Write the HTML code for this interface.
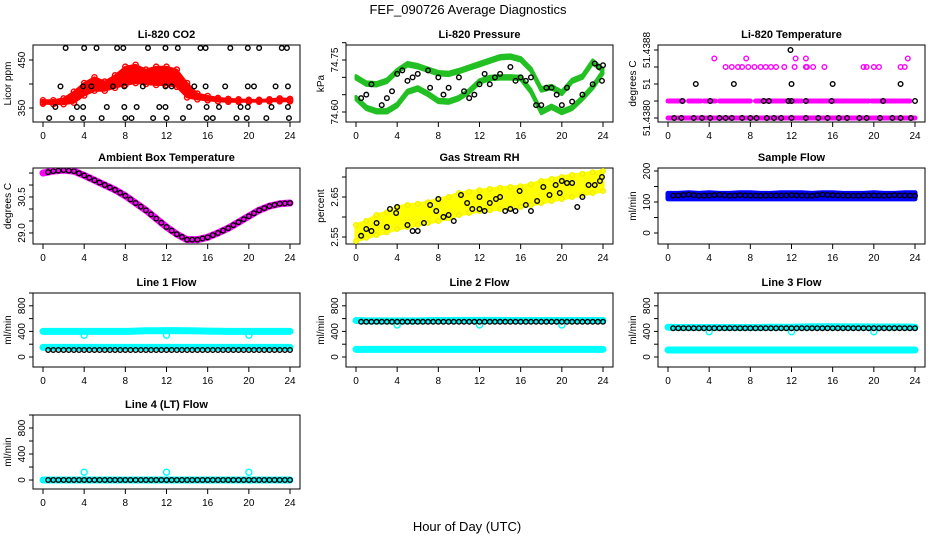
<!DOCTYPE html>
<html><head><meta charset="utf-8"><style>
html,body{margin:0;padding:0;background:#fff;}
svg{display:block;font-family:"Liberation Sans",sans-serif;}
</style></head><body>
<svg id="chart" width="936" height="540" viewBox="0 0 936 540" xmlns="http://www.w3.org/2000/svg">
<rect width="936" height="540" fill="#fff"/>
<text x="468" y="14" text-anchor="middle" font-size="13">FEF_090726  Average Diagnostics</text>
<text x="467" y="531" text-anchor="middle" font-size="13">Hour of Day (UTC)</text>
<g id="plots"></g>
</svg>
<script>
// ---------- data ----------
const hours = [0,1,2,3,4,5,6,7,8,9,10,11,12,13,14,15,16,17,18,19,20,21,22,23,24];
const xTicks = [0,4,8,12,16,20,24];

// CO2
const co2Hi = [366,366,370,384,402,414,405,418,436,440,430,436,436,430,402,380,375,371,369,368,367,367,368,370,369];
const co2Lo = [359,358,358,361,376,386,386,392,398,402,400,398,398,394,372,368,366,364,363,363,363,363,364,364,364];
const co2Mid = [362,362,364,372,392,400,395,405,420,425,415,420,418,412,388,374,370,368,366,365,365,365,366,367,366];
const co2BlackX = [2.2,4.0,5.2,7.2,7.8,10.2,11.9,13.1,15.3,15.8,18.2,19.9,21.0,23.2,23.7,
  1.7,3.9,4.7,6.8,7.9,9.7,11.9,12.5,14.7,15.8,17.7,19.9,20.5,22.6,23.8,
  1.2,3.3,3.9,6.2,7.9,9.1,11.3,11.9,14.2,15.9,17.1,19.2,19.9,22.2,23.8,
  0.6,2.8,3.9,5.7,8.0,8.6,10.7,12.0,13.6,15.9,16.5,18.8,19.8,21.7,23.9];
const co2BlackY = [475,475,475,475,475,475,475,475,475,475,475,475,475,475,475,
  395,395,395,395,395,395,395,395,395,395,395,395,395,395,395,
  352,352,352,352,352,352,352,352,352,352,352,352,352,352,352,
  329,329,329,329,329,329,329,329,329,329,329,329,329,329,329];

// Pressure
const presUp = [74.700,74.682,74.680,74.690,74.718,74.738,74.732,74.722,74.712,74.710,74.718,74.728,74.738,74.748,74.758,74.760,74.752,74.722,74.665,74.672,74.655,74.690,74.702,74.745,74.720];
const presLo = [74.640,74.612,74.602,74.602,74.620,74.658,74.668,74.652,74.632,74.630,74.640,74.660,74.688,74.698,74.700,74.700,74.698,74.660,74.600,74.615,74.600,74.612,74.640,74.672,74.715];
const presBlackX = [0.5,1,1.5,2.5,3,3.5,4,4.5,5,5.5,6,7,7.2,8,8.5,9,10,10.5,11,11.5,12,12.5,13,13.5,14,15,15.5,16,16.5,17,17.5,18,18.5,19,19.5,20,20.5,21,22,23,23.2,23.6,24,23.9];
const presBlackY = [74.640,74.650,74.680,74.620,74.640,74.660,74.710,74.720,74.690,74.700,74.710,74.720,74.670,74.700,74.650,74.670,74.700,74.660,74.640,74.650,74.680,74.710,74.680,74.700,74.710,74.730,74.690,74.700,74.690,74.700,74.620,74.620,74.670,74.670,74.650,74.620,74.670,74.630,74.650,74.680,74.740,74.730,74.735,74.690];

// Li-820 temperature
const tempPinkRanges0 = [[0,24]];
const tempPinkRanges1 = [[0,1.5],[2,3.2],[3.5,4.6],[5,8],[8.5,9],[9.3,11.3],[11.5,13],[13.5,19.5],[19.8,23.5]];
const tempPinkX = [5.6,6.2,6.8,7.2,7.8,8.4,9,9.5,10,10.5,11.3,12.3,13.4,13.5,14.1,15.2,19,19.3,20,20.5,22.6,23,4.5,7.6,12.4,13.4,23.3];
const tempPinkY = [51.4386,51.4386,51.4386,51.4386,51.4386,51.4386,51.4386,51.4386,51.4386,51.4386,51.4386,51.4386,51.4386,51.4386,51.4386,51.4386,51.4386,51.4386,51.4386,51.4386,51.4386,51.4386,51.4387,51.4387,51.4387,51.4387,51.4387];
const tempBlackX = [0.6,1.3,2.5,3.3,4.1,5,5.6,6.2,7.2,8,8.6,9.6,10.3,11,12,13.4,14.6,15.5,16.6,17.4,18.6,19.3,20.6,21.8,22.6,23.6,
  1.4,4.1,9.3,9.8,11.7,12,13.4,15.9,20.9,24, 2.7,6.4,12,16,22.6, 11.9];
const tempBlackY = [51.4380,51.4380,51.4380,51.4380,51.4380,51.4380,51.4380,51.4380,51.4380,51.4380,51.4380,51.4380,51.4380,51.4380,51.4380,51.4380,51.4380,51.4380,51.4380,51.4380,51.4380,51.4380,51.4380,51.4380,51.4380,51.4380,
  51.4382,51.4382,51.4382,51.4382,51.4382,51.4382,51.4382,51.4382,51.4382,51.4382, 51.4384,51.4384,51.4384,51.4384,51.4384, 51.4388];

// Ambient box temperature
const ambient = [31.50,31.58,31.62,31.58,31.40,31.20,31.00,30.80,30.55,30.25,29.95,29.60,29.25,28.95,28.72,28.72,28.82,29.00,29.20,29.45,29.70,29.95,30.12,30.22,30.25];

// RH
const rhLo = [2.540,2.548,2.555,2.562,2.570,2.575,2.580,2.585,2.590,2.597,2.605,2.610,2.615,2.617,2.620,2.622,2.625,2.630,2.635,2.640,2.645,2.650,2.655,2.660,2.665];
const rhHi = [2.580,2.590,2.605,2.612,2.625,2.630,2.633,2.637,2.645,2.650,2.660,2.663,2.667,2.670,2.673,2.675,2.677,2.682,2.690,2.695,2.700,2.705,2.708,2.712,2.715];
const rhBlackX = [0.5,1,1.5,2,3,3.3,3.9,4,5,5.5,6,6.6,7.2,7.8,8,8.5,9,9.5,10.2,10.8,11.3,12,12,12.5,13,13.6,14,14.5,15,15.5,15.9,16.5,17,17.6,18.2,18.8,19.4,19.8,20,20.5,21,21.5,22,22.6,23.2,23.7,23.9];
const rhBlackY = [2.553,2.570,2.565,2.585,2.575,2.620,2.610,2.625,2.580,2.565,2.565,2.585,2.630,2.615,2.645,2.600,2.605,2.590,2.655,2.635,2.620,2.650,2.620,2.615,2.635,2.645,2.650,2.615,2.620,2.615,2.665,2.630,2.615,2.640,2.675,2.655,2.680,2.660,2.690,2.685,2.685,2.625,2.650,2.680,2.680,2.690,2.700];

// Sample flow
const sampleLo = [110,110,110,110,110,110,110,110,110,110,110,110,110,110,110,110,110,110,110,110,110,110,110,110,110];
const sampleHi = [128,128,130,128,130,128,128,130,130,128,128,130,130,130,128,130,130,128,128,128,130,128,128,130,130];
const sampleBlack = [120,121,124,120,121,123,120,122,121,120,121,121,122,121,120,124,122,121,120,121,121,120,122,121,120];

// Line flows (hourly)
const l1CyanHi = [400,400,400,400,400,400,400,400,400,405,410,410,412,412,410,408,405,402,400,400,400,400,400,400,400];
const l1CyanLo = [150,150,150,150,150,150,150,150,150,150,150,150,150,150,150,150,150,150,150,150,150,150,150,150,150];
const l1Black  = [110,110,110,110,110,110,110,110,110,110,110,110,110,110,110,110,110,110,110,110,110,110,110,110,110];
const l2CyanHi = [570,565,565,565,565,565,565,568,570,570,572,572,572,572,572,570,570,570,570,570,570,570,570,570,570];
const l2CyanLo = [120,120,120,120,120,120,120,120,120,120,120,120,120,120,120,120,120,120,120,120,120,120,120,120,120];
const l2Black  = [550,550,550,550,550,550,550,550,550,550,550,550,550,550,550,550,550,550,550,550,550,550,550,550,550];
const l3CyanHi = [465,462,462,462,462,462,462,462,462,462,465,465,465,468,470,472,472,470,470,470,468,468,468,468,465];
const l3CyanLo = [110,110,110,110,110,110,110,110,110,110,110,110,110,110,110,110,110,110,110,110,110,110,110,110,110];
const l3Black  = [450,450,450,450,450,450,450,450,450,450,450,450,450,450,450,450,450,450,450,450,450,450,450,450,450];
const l4Cyan   = [0,0,0,0,0,0,0,0,0,0,0,0,0,0,0,0,0,0,0,0,0,0,0,0,0];
const l4Black  = [0,0,0,0,0,0,0,0,0,0,0,0,0,0,0,0,0,0,0,0,0,0,0,0,0];
const flowOutX = [4,12,20];
const l1OutY = [340,340,340];
const l2OutY = [500,500,500];
const l3OutY = [395,395,395];
const l4OutY = [120,120,120];

// ---------- drawing ----------
const NS = "http://www.w3.org/2000/svg";
const root = document.getElementById('plots');
const colLeft = [33,346,658], boxW = 267;
const rowTop = [45,168,293,415], rowH = [77,76,74,74];

function mk(tag, attrs, parent){
  const e = document.createElementNS(NS, tag);
  for (const k in attrs) e.setAttribute(k, attrs[k]);
  parent.appendChild(e);
  return e;
}

function panel(col,row,title,ylab,ymin,ymax,yticks,ylabels,name){
  const L = colLeft[col], T = rowTop[row], H = rowH[row];
  const g = mk('g',{},root);
  
  
  const sx = h => L + 10 + h*(boxW-20)/24;
  const sy = v => T + H - (v-ymin)/(ymax-ymin)*H;
  const box = mk('rect',{x:L,y:T,width:boxW,height:H,fill:'none',stroke:'#000','stroke-width':1},g);
  
  
  const t = mk('text',{x:L+boxW/2,y:T-7,'text-anchor':'middle','font-size':11,'font-weight':'bold'},g);
  t.textContent = title;
  
  
  const xa = mk('g',{},g);
  
  
  mk('line',{x1:sx(0),x2:sx(24),y1:T+H,y2:T+H,stroke:'#000'},xa);
  xTicks.forEach(h=>{
    mk('line',{x1:sx(h),x2:sx(h),y1:T+H,y2:T+H+5,stroke:'#000'},xa);
    const tx = mk('text',{x:sx(h),y:T+H+17,'text-anchor':'middle','font-size':10},xa);
    tx.textContent = h;
    
    
  });
  const ya = mk('g',{},g);
  
  
  mk('line',{x1:L,x2:L,y1:sy(yticks[0]),y2:sy(yticks[yticks.length-1]),stroke:'#000'},ya);
  yticks.forEach((v,i)=>{
    const y = sy(v);
    mk('line',{x1:L-4,x2:L,y1:y,y2:y,stroke:'#000'},ya);
    if (ylabels[i]){
      const ty = mk('text',{x:L-8,y:y,'text-anchor':'middle','font-size':10,transform:`rotate(-90 ${L-8} ${y})`},ya);
      ty.textContent = ylabels[i];
      
      
    }
  });
  const yl = mk('text',{x:L-22,y:T+H/2,'text-anchor':'middle','font-size':10,transform:`rotate(-90 ${L-22} ${T+H/2})`},g);
  yl.textContent = ylab;
  
  
  const clipId = 'c'+col+'_'+row;
  const cp = mk('clipPath',{id:clipId},g);
  mk('rect',{x:L,y:T,width:boxW,height:H},cp);
  const data = mk('g',{'clip-path':`url(#${clipId})`},g);
  
  
  return {sx,sy,g:data};
}

function pts(p,xs,ys,color,name,r){
  xs.forEach((x,i)=>{
    const c = mk('circle',{cx:p.sx(x),cy:p.sy(ys[i]),r:r||2.3,fill:'none',stroke:color,'stroke-width':1.4},p.g);
    
    
  });
}
function band(p,xs,lo,hi,color,name,sw){
  let d = xs.map((x,i)=>(i?'L':'M')+p.sx(x)+','+p.sy(hi[i])).join('');
  for (let i=xs.length-1;i>=0;i--) d += 'L'+p.sx(xs[i])+','+p.sy(lo[i]);
  const e = mk('path',{d:d+'Z',fill:color,stroke:color,'stroke-width':sw||5,'stroke-linejoin':'round'},p.g);
  
  
}
function line(p,xs,ys,color,w,name){
  const e = mk('polyline',{points:xs.map((x,i)=>p.sx(x)+','+p.sy(ys[i])).join(' '),fill:'none',stroke:color,'stroke-width':w,'stroke-linecap':'round','stroke-linejoin':'round'},p.g);
  
  
}
const halfs = []; for (let i=0;i<=47;i++) halfs.push(0.5+i*0.5);
function interp(arr,h){ const i=Math.min(23,Math.floor(h)); const f=h-i; return arr[i]*(1-f)+arr[i+1]*f; }
const blackHalf = halfs.filter(h=>h<=24);

// Panel 1: CO2
let p = panel(0,0,'Li-820 CO2','Licor ppm',320.8,481.25,[350,400,450],['350','','450'],'co2-panel');
band(p,hours,co2Lo,co2Hi,'#ff0000','co2-series',2);
pts(p,hours,co2Hi,'#ff0000','co2-point',2.6);
pts(p,hours,co2Mid,'#ff0000','co2-point',2.6);
pts(p,hours,co2Lo,'#ff0000','co2-point',2.6);
pts(p,co2BlackX,co2BlackY,'#000','co2-avg-point');

// Panel 2: Pressure
p = panel(1,0,'Li-820 Pressure','kPa',74.5712,74.7933,[74.60,74.65,74.70,74.75,74.80],['74.60','','','74.75',''],'pressure-panel');
band(p,hours,presUp.map(v=>v-0.005),presUp.map(v=>v+0.005),'#22c022','pressure-upper-series',3);
band(p,hours,presLo.map(v=>v-0.005),presLo.map(v=>v+0.005),'#22c022','pressure-lower-series',3);
pts(p,presBlackX,presBlackY,'#000','pressure-avg-point');

// Panel 3: Li-820 temperature
p = panel(2,0,'Li-820 Temperature','degrees C',51.437953,51.438859,[51.4380,51.4382,51.4384,51.4386,51.4388],['51.4380','','51','','51.4388'],'li820-temperature-panel');
tempPinkRanges0.forEach(r=>line(p,r,[51.4380,51.4380],'#ff00ff',5,'temp-series-level0'));
tempPinkRanges1.forEach(r=>line(p,r,[51.4382,51.4382],'#ff00ff',5,'temp-series-level1'));
pts(p,tempPinkX,tempPinkY,'#ff00ff','temp-point');
pts(p,tempBlackX,tempBlackY,'#000','temp-avg-point');

// Panel 4: Ambient
p = panel(0,1,'Ambient Box Temperature','degrees C',28.54,31.71,[29.0,29.5,30.0,30.5,31.0,31.5],['29.0','','','30.5','',''],'ambient-temperature-panel');
line(p,hours,ambient,'#ff00ff',7,'ambient-series');
pts(p,blackHalf,blackHalf.map(h=>interp(ambient,h)),'#000','ambient-avg-point');

// Panel 5: RH
p = panel(1,1,'Gas Stream RH','percent',2.5325,2.7225,[2.55,2.60,2.65,2.70],['2.55','','2.65',''],'rh-panel');
band(p,hours,rhLo,rhHi,'#ffff00','rh-series',3);
pts(p,hours,rhLo,'#f0f000','rh-point');
pts(p,hours,rhHi,'#f0f000','rh-point');
pts(p,rhBlackX,rhBlackY,'#000','rh-avg-point');

// Panel 6: Sample flow
p = panel(2,1,'Sample Flow','ml/min',-35.5,209.7,[0,50,100,150,200],['0','','100','','200'],'sample-flow-panel');
band(p,hours,sampleLo,sampleHi,'#0000ff','sample-flow-series');
pts(p,blackHalf,blackHalf.map(h=>interp(sampleBlack,h)),'#000','sample-flow-avg-point');

// Row 3/4 flows
const flowTicks = [0,200,400,600,800,1000], flowLabels = ['0','','400','','800',''];
function flowPanel(col,row,title,hi,lo,blk,outY,name){
  const q = panel(col,row,title,'ml/min',row===2?-156:-138,1000,flowTicks,flowLabels,name);
  line(q,hours,hi,'#00ffff',7,'cyan-upper-series');
  if (lo) line(q,hours,lo,'#00ffff',7,'cyan-lower-series');
  pts(q,flowOutX,outY,'#00ffff','cyan-outlier-point',3);
  pts(q,blackHalf,blackHalf.map(h=>interp(blk,h)),'#000','flow-avg-point');
}
flowPanel(0,2,'Line 1 Flow',l1CyanHi,l1CyanLo,l1Black,l1OutY,'line1-flow-panel');
flowPanel(1,2,'Line 2 Flow',l2CyanHi,l2CyanLo,l2Black,l2OutY,'line2-flow-panel');
flowPanel(2,2,'Line 3 Flow',l3CyanHi,l3CyanLo,l3Black,l3OutY,'line3-flow-panel');
flowPanel(0,3,'Line 4 (LT) Flow',l4Cyan,null,l4Black,l4OutY,'line4-flow-panel');
</script>
</body></html>
